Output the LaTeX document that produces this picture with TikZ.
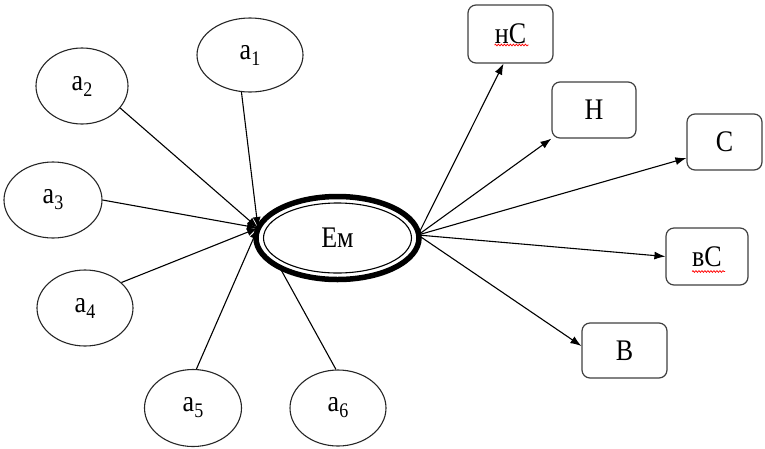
\documentclass[tikz,border=0pt]{standalone}
\usepackage{fontspec}
\usepackage{graphicx}
\setmainfont{Liberation Serif}
\usetikzlibrary{shapes.geometric,arrows.meta,decorations.pathmorphing}
\newcommand{\mytx}[1]{\scalebox{1}[1.15]{#1}}
\newcommand{\myasub}[1]{\mytx{a\raisebox{-0.2em}{\fontsize{18}{18}\selectfont #1}}}
\begin{document}
\begin{tikzpicture}[x=1pt,y=-1pt,
  leaf/.style={ellipse, draw=black!85, line width=1.1pt, fill=white, inner sep=0pt,
    minimum width=96pt, minimum height=76pt, font=\fontsize{26}{28}\selectfont},
  box/.style={rectangle, rounded corners=8pt, draw=black!75, line width=1.2pt, fill=white,
    inner sep=0pt, minimum width=84pt, minimum height=56pt, font=\fontsize{26}{28}\selectfont},
  arr/.style={line width=1.1pt, -{Latex[length=11pt,width=8pt]}},
  squig/.style={red, line width=0.7pt, decorate, decoration={snake, segment length=3pt, amplitude=0.9pt}}
]
\useasboundingbox (0,0) rectangle (765,448);

% outer nodes
\node[leaf, minimum width=106pt, minimum height=74pt] (a1) at (250,55) {\myasub{1}};
\node[leaf, minimum width=92pt] (a2) at (82,86) {\myasub{2}};
\node[leaf, minimum width=98pt] (a3) at (53,200) {\myasub{3}};
\node[leaf] (a4) at (85,308) {\myasub{4}};
\node[leaf, minimum width=97pt, minimum height=77pt] (a5) at (193,408) {\myasub{5}};
\node[leaf] (a6) at (338,408) {\myasub{6}};

\coordinate (tin) at (258,228);
\coordinate (tout) at (418,235);

% a6 arrow is hidden behind the central ellipse
\draw[arr] (a6.93) -- (tin);

% central ellipse
\node[ellipse, draw=black, line width=5.5pt, fill=white, inner sep=0pt,
      minimum width=163pt, minimum height=83pt] (E) at (337.5,238) {};
\node[ellipse, draw=black, line width=1.1pt, inner sep=0pt,
      minimum width=148pt, minimum height=70pt, font=\fontsize{26}{28}\selectfont] (Ein) at (337.5,238) {\mytx{Ем}};

% incoming arrows
\draw[arr] (a1.257) -- (tin);
\draw[arr] (a2.330) -- (tin);
\draw[arr] (a3.east) -- (tin);
\draw[arr] (a4.35) -- (tin);
\draw[arr] (a5.85) -- (tin);

% boxes
\node[box, minimum width=85pt, minimum height=58pt] (c1) at (510.5,34) {\mytx{нС}};
\node[box] (c2) at (594,110) {\mytx{Н}};
\node[box, minimum width=75pt] (c3) at (724.5,142) {\mytx{С}};
\node[box, minimum width=82pt, minimum height=57pt] (c4) at (707,256.5) {\mytx{вС}};
\node[box, minimum width=85pt, minimum height=55pt] (c5) at (624.5,350.5) {\mytx{В}};

% spell-check underlines
\draw[squig] ([xshift=-16pt,yshift=-11pt]c1.center) -- ([xshift=18pt,yshift=-11pt]c1.center);
\draw[squig] ([xshift=-15pt,yshift=-15pt]c4.center) -- ([xshift=18pt,yshift=-15pt]c4.center);

% outgoing arrows
\draw[arr] (tout) -- ([xshift=-7pt]c1.south);
\draw[arr] (tout) -- (c2.south west);
\draw[arr] (tout) -- ([yshift=-16pt]c3.west);
\draw[arr] (tout) -- (c4.west);
\draw[arr] (tout) -- ([yshift=4.5pt]c5.west);
\end{tikzpicture}
\end{document}
